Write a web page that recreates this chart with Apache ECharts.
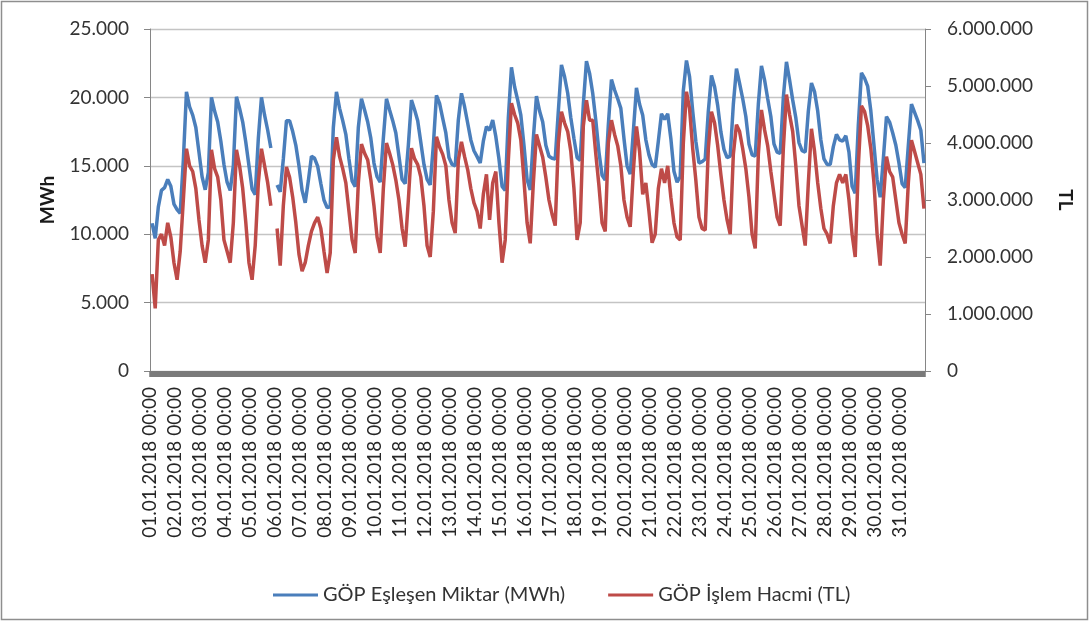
<!DOCTYPE html>
<html><head><meta charset="utf-8">
<script src="https://cdn.jsdelivr.net/npm/echarts@6/dist/echarts.min.js"></script>
<style>html,body{margin:0;padding:0;background:#fff}#c{width:1090px;height:623px}</style>
</head><body><div id="c"></div>
<script>
// Day tick labels (x axis, one per day at 00:00)
const dayLabels = [
  '01.01.2018 00:00','02.01.2018 00:00','03.01.2018 00:00','04.01.2018 00:00','05.01.2018 00:00',
  '06.01.2018 00:00','07.01.2018 00:00','08.01.2018 00:00','09.01.2018 00:00','10.01.2018 00:00',
  '11.01.2018 00:00','12.01.2018 00:00','13.01.2018 00:00','14.01.2018 00:00','15.01.2018 00:00',
  '16.01.2018 00:00','17.01.2018 00:00','18.01.2018 00:00','19.01.2018 00:00','20.01.2018 00:00',
  '21.01.2018 00:00','22.01.2018 00:00','23.01.2018 00:00','24.01.2018 00:00','25.01.2018 00:00',
  '26.01.2018 00:00','27.01.2018 00:00','28.01.2018 00:00','29.01.2018 00:00','30.01.2018 00:00',
  '31.01.2018 00:00'
];
const sampleHours = [2, 5, 8, 11, 14, 17, 20, 23];

// GÖP Eşleşen Miktar (MWh), one row per day
const miktarMWh = [
  10800, 9700, 12000, 13200, 13400, 14000, 13500, 12200,
  11800, 11530, 15400, 20400, 19300, 18700, 17800, 16000,
  14200, 13250, 14500, 20000, 19000, 18200, 16800, 15100,
  13800, 13200, 15000, 20050, 19200, 18200, 16700, 15000,
  13300, 12900, 17000, 20000, 18700, 17600, 16300, null,
  13600, 13100, 15500, 18300, 18300, 17500, 16500, 15000,
  13200, 12300, 13900, 15700, 15550, 14950, 13700, 12500,
  11950, 12000, 17800, 20400, 19200, 18300, 17300, 15500,
  13900, 13470, 17800, 19900, 19080, 18200, 17000, 15200,
  14200, 13800, 17000, 19900, 19080, 18300, 17400, 15700,
  14000, 13700, 16500, 19800, 19100, 18300, 16700, 15100,
  14000, 13600, 16500, 20150, 19570, 18470, 17400, 15600,
  15100, 15000, 18350, 20300, 19320, 18110, 16890, 16100,
  15670, 15200, 16800, 17860, 17600, 18350, 17130, 15500,
  13500, 13200, 18500, 22200, 20780, 19800, 18700, 16500,
  14000, 13230, 17000, 20100, 19000, 18200, 16500, 15700,
  15550, 15500, 19000, 22370, 21510, 20300, 18500, 17000,
  15600, 15400, 19500, 22650, 21760, 20300, 18300, 16000,
  14300, 13960, 18000, 21300, 20540, 19900, 19200, 17000,
  15000, 14400, 17500, 20700, 19500, 18700, 16900, 15800,
  15100, 14900, 16800, 18800, 18400, 18800, 17000, 14600,
  13800, 14200, 20500, 22700, 21500, 19000, 16800, 15200,
  15300, 15500, 19000, 21600, 20780, 19400, 17500, 16200,
  15600, 15700, 19500, 22100, 21030, 19900, 18600, 16600,
  15800, 15700, 19500, 22300, 21270, 19900, 18600, 16600,
  16000, 15900, 20000, 22600, 21270, 19800, 18500, 16700,
  16100, 16000, 19000, 21050, 20400, 19000, 16900, 15500,
  15100, 15100, 16400, 17300, 16900, 16800, 17200, 16000,
  13500, 13000, 18000, 21800, 21400, 20800, 19000, 16500,
  14000, 12700, 15500, 18590, 18200, 17400, 16500, 15200,
  13700, 13400, 16500, 19500, 18900, 18300, 17600, 15200
];

// GÖP İşlem Hacmi (TL), one row per day
const hacimTL = [
  1700000, 1100000, 2300000, 2400000, 2200000, 2600000, 2350000, 1900000,
  1600000, 2100000, 3000000, 3900000, 3600000, 3500000, 3200000, 2650000,
  2200000, 1900000, 2300000, 3880000, 3550000, 3400000, 3000000, 2300000,
  2100000, 1900000, 2600000, 3880000, 3600000, 3200000, 2600000, 1900000,
  1600000, 2200000, 3300000, 3900000, 3600000, 3300000, 2900000, null,
  2500000, 1850000, 2900000, 3580000, 3400000, 3050000, 2600000, 2050000,
  1750000, 1900000, 2200000, 2450000, 2600000, 2700000, 2500000, 2100000,
  1720000, 2070000, 3700000, 4100000, 3760000, 3550000, 3300000, 2800000,
  2300000, 2070000, 3300000, 3980000, 3820000, 3700000, 3350000, 2900000,
  2350000, 2070000, 3200000, 4000000, 3820000, 3620000, 3350000, 3000000,
  2500000, 2180000, 3000000, 3910000, 3720000, 3620000, 3400000, 2900000,
  2200000, 2000000, 2800000, 4110000, 3930000, 3800000, 3600000, 3000000,
  2600000, 2420000, 3700000, 4020000, 3760000, 3530000, 3200000, 2950000,
  2800000, 2500000, 3100000, 3450000, 2650000, 3300000, 3500000, 2600000,
  1900000, 2300000, 3700000, 4700000, 4500000, 4350000, 4050000, 3350000,
  2600000, 2240000, 3300000, 4150000, 3950000, 3750000, 3400000, 3000000,
  2750000, 2550000, 4000000, 4550000, 4350000, 4200000, 3850000, 3200000,
  2300000, 2600000, 4300000, 4750000, 4400000, 4400000, 3800000, 3250000,
  2600000, 2450000, 4000000, 4400000, 4150000, 3950000, 3600000, 3000000,
  2700000, 2530000, 3500000, 4290000, 3850000, 3100000, 3300000, 2800000,
  2250000, 2400000, 3200000, 3550000, 3300000, 3600000, 3050000, 2600000,
  2350000, 2300000, 4000000, 4900000, 4600000, 3900000, 3350000, 2700000,
  2500000, 2470000, 3900000, 4550000, 4350000, 3950000, 3450000, 3000000,
  2650000, 2400000, 3800000, 4320000, 4200000, 3900000, 3550000, 3050000,
  2400000, 2150000, 3800000, 4580000, 4230000, 3950000, 3500000, 3100000,
  2700000, 2550000, 3900000, 4850000, 4500000, 4200000, 3600000, 2900000,
  2550000, 2200000, 3300000, 4250000, 3850000, 3300000, 2850000, 2500000,
  2400000, 2240000, 2900000, 3300000, 3450000, 3300000, 3450000, 3000000,
  2400000, 2000000, 3600000, 4650000, 4550000, 4300000, 3900000, 3300000,
  2400000, 1850000, 3000000, 3760000, 3500000, 3400000, 3000000, 2600000,
  2400000, 2240000, 3300000, 4050000, 3850000, 3650000, 3450000, 2850000
];

const seriesNames = ['GÖP Eşleşen Miktar (MWh)', 'GÖP İşlem Hacmi (TL)'];

function toPairs(arr) {
  return arr.map((v, i) => [Math.floor(i / sampleHours.length) * 24 + sampleHours[i % sampleHours.length], v == null ? '-' : v]);
}
function dotted(v) { return String(v).replace(/\B(?=(\d{3})+(?!\d))/g, '.'); }

const FONT = 'Lato';
const chart = echarts.init(document.getElementById('c'), null, {renderer: 'canvas'});
chart.setOption({
  animation: false,
  backgroundColor: '#fff',
  textStyle: {fontFamily: FONT},
  graphic: [{
    type: 'rect', shape: {x: 1.5, y: 1.5, width: 1086, height: 618}, silent: true,
    style: {fill: 'none', stroke: '#8e8e8e', lineWidth: 1.5}
  }],
  grid: {left: 150, right: 165, top: 29, bottom: 252, containLabel: false},
  legend: {
    left: 268, top: 580, icon: 'rect', itemWidth: 45, itemHeight: 3, itemGap: 43,
    textStyle: {fontFamily: FONT, fontSize: 20, color: '#333'},
    data: seriesNames
  },
  xAxis: {
    type: 'value', min: 0, max: 744, interval: 24,
    splitLine: {show: false},
    axisLine: {lineStyle: {color: '#808080', width: 1}},
    axisTick: {show: true, length: 6, lineStyle: {color: '#7a7a7a', width: 1.5}},
    minorTick: {show: true, splitNumber: 24, length: 6, lineStyle: {color: '#7a7a7a', width: 2}},
    axisLabel: {
      rotate: 90, margin: 16, fontFamily: FONT, fontSize: 19, color: '#262626',
      showMaxLabel: false,
      formatter: v => dayLabels[Math.round(v / 24)] || ''
    }
  },
  yAxis: [{
    type: 'value', min: 0, max: 25000, interval: 5000, position: 'left',
    name: 'MWh', nameLocation: 'middle', nameGap: 93,
    nameTextStyle: {fontFamily: FONT, fontSize: 19, fontWeight: 'bold', color: '#1a1a1a'},
    axisLine: {show: true, lineStyle: {color: '#868686'}},
    axisTick: {show: true, length: 6, lineStyle: {color: '#868686'}},
    splitLine: {show: true, lineStyle: {color: '#c4c4c4', width: 1.4}},
    axisLabel: {margin: 21, fontFamily: FONT, fontSize: 19, color: '#333', formatter: dotted}
  }, {
    type: 'value', min: 0, max: 6000000, interval: 1000000, position: 'right',
    name: 'TL', nameLocation: 'middle', nameGap: 131, nameRotate: -90,
    nameTextStyle: {fontFamily: FONT, fontSize: 19, fontWeight: 'bold', color: '#1a1a1a'},
    axisLine: {show: true, lineStyle: {color: '#868686'}},
    axisTick: {show: true, length: 6, lineStyle: {color: '#868686'}},
    splitLine: {show: false},
    axisLabel: {margin: 22, fontFamily: FONT, fontSize: 19, color: '#333', formatter: dotted}
  }],
  series: [{
    name: seriesNames[0], type: 'line', yAxisIndex: 0, showSymbol: false, symbol: 'none',
    connectNulls: false, lineStyle: {color: '#4a7ebb', width: 3.5}, itemStyle: {color: '#4a7ebb'},
    data: toPairs(miktarMWh)
  }, {
    name: seriesNames[1], type: 'line', yAxisIndex: 1, showSymbol: false, symbol: 'none',
    connectNulls: false, lineStyle: {color: '#be4b48', width: 3.5}, itemStyle: {color: '#be4b48'},
    data: toPairs(hacimTL)
  }]
});
</script>
</body></html>
